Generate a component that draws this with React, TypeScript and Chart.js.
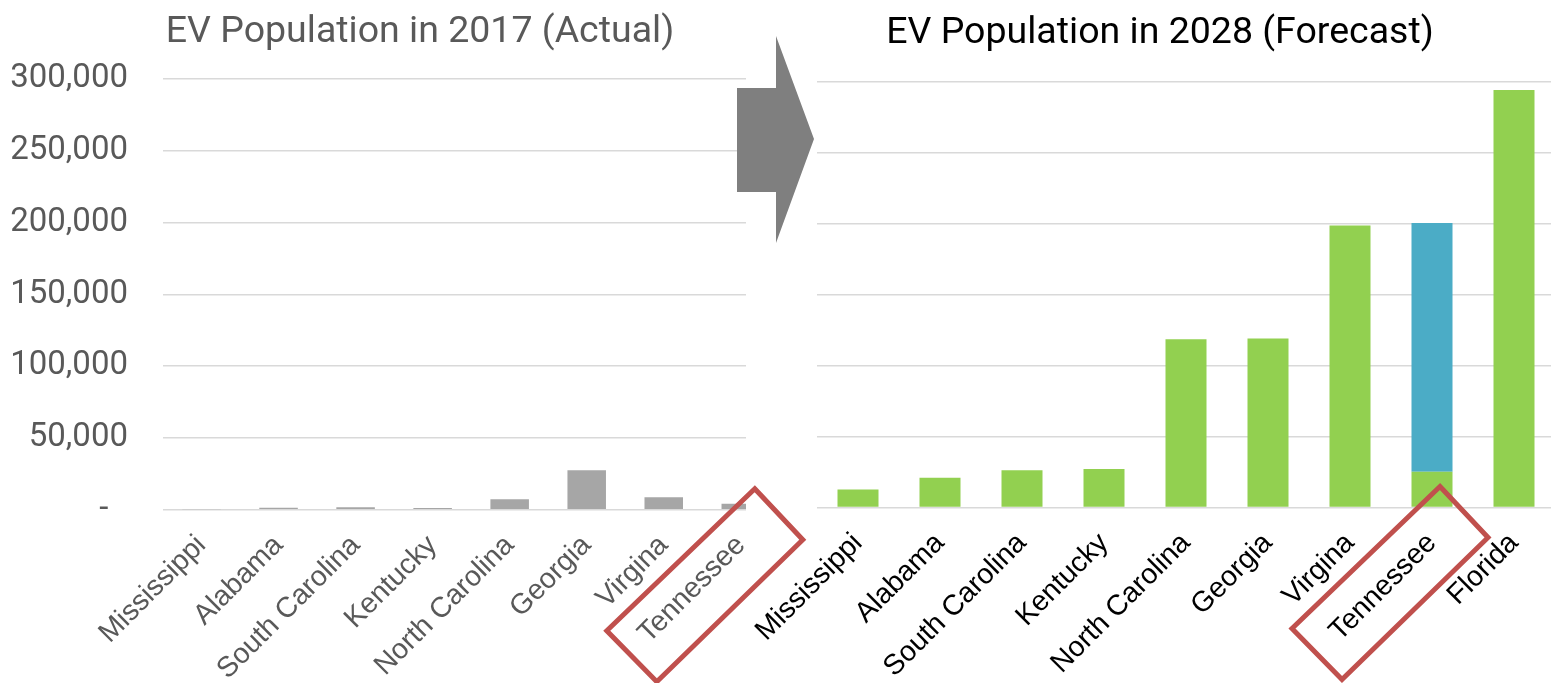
import React, { useEffect, useRef } from 'react';
import { Chart, registerables } from 'chart.js';

Chart.register(...registerables);

// ---- data ----
const states2017 = ['Mississippi', 'Alabama', 'South Carolina', 'Kentucky', 'North Carolina', 'Georgia', 'Virgina', 'Tennessee'];
const actual2017 = [300, 1300, 1700, 1100, 7200, 27400, 8600, 4200];

const states2028 = ['Mississippi', 'Alabama', 'South Carolina', 'Kentucky', 'North Carolina', 'Georgia', 'Virgina', 'Tennessee', 'Florida'];
const forecast2028 = [12700, 20900, 26300, 27200, 118600, 119000, 198600, 25100, 294200];
const tennesseeAdded2028 = [0, 0, 0, 0, 0, 0, 0, 175400, 0];

const yMax = 300000;
const yStep = 50000;

const title2017 = 'EV Population in 2017 (Actual)';
const title2028 = 'EV Population in 2028 (Forecast)';

const highlightIndex = states2017.indexOf('Tennessee');

// ---- layout constants (page px) ----
const W = 1551;
const H = 683;
const LEFT_W = 840;
const RIGHT_X = 745;
const RIGHT_W = 830;

const GRID = '#d9d9d9';
const GREY_TEXT = '#595959';

function yTickLabel(v: number | string) {
  const n = Number(v);
  return n === 0 ? '-  \u200A' : n.toLocaleString('en-US');
}

// moves the built-in title so that it is centred on a given x
const titleShift = {
  id: 'titleShift',
  afterLayout(chart: any, _args: any, opts: any) {
    const t = chart.titleBlock;
    if (!t || opts == null || opts.center == null) return;
    const half = (t.right - t.left) / 2;
    t.left = opts.center - half;
    t.right = opts.center + half;
  },
};

export default function App() {
  const leftRef = useRef<HTMLCanvasElement>(null);
  const rightRef = useRef<HTMLCanvasElement>(null);
  const overlayRef = useRef<HTMLCanvasElement>(null);

  useEffect(() => {
    const left = new Chart(leftRef.current!, {
      type: 'bar',
      data: {
        labels: states2017,
        datasets: [
          {
            data: actual2017,
            backgroundColor: '#A6A6A6',
            categoryPercentage: 1,
            barPercentage: 0.5,
          },
        ],
      },
      plugins: [titleShift],
      options: {
        responsive: false,
        animation: false,
        layout: { padding: { left: 8, right: 60.7, top: 0, bottom: 0 } },
        plugins: {
          legend: { display: false },
          tooltip: { enabled: false },
          titleShift: { center: 420 },
          title: {
            display: true,
            text: title2017,
            color: GREY_TEXT,
            font: { family: 'Roboto', size: 37.5, weight: 'normal', lineHeight: 1.2 },
            padding: { top: 10.1, bottom: 23.9 },
          },
        } as any,
        scales: {
          x: {
            grid: { display: false },
            border: { display: false },
            ticks: {
              autoSkip: false,
              maxRotation: 45,
              minRotation: 45,
              color: GREY_TEXT,
              font: { family: 'Liberation Sans', size: 28.5 },
              padding: 11,
            },
            afterFit: (s: any) => {
              s.height = 173.3;
            },
          },
          y: {
            min: 0,
            max: yMax,
            ticks: {
              stepSize: yStep,
              padding: 35,
              color: GREY_TEXT,
              font: { family: 'Roboto', size: 33 },
              callback: yTickLabel,
            },
            grid: { color: GRID, lineWidth: 1.5, drawTicks: false },
            border: { display: false },
            afterFit: (s: any) => {
              s.width = 155;
            },
          },
        },
      },
    });

    const right = new Chart(rightRef.current!, {
      type: 'bar',
      data: {
        labels: states2028,
        datasets: [
          {
            data: forecast2028,
            backgroundColor: '#92D050',
            categoryPercentage: 1,
            barPercentage: 0.5,
          },
          {
            data: tennesseeAdded2028,
            backgroundColor: '#4BACC6',
            categoryPercentage: 1,
            barPercentage: 0.5,
          },
        ],
      },
      plugins: [titleShift],
      options: {
        responsive: false,
        animation: false,
        layout: { padding: { left: 8, right: 20, top: 0, bottom: 0 } },
        plugins: {
          legend: { display: false },
          tooltip: { enabled: false },
          titleShift: { center: 1160 - RIGHT_X },
          title: {
            display: true,
            text: title2028,
            color: '#000000',
            font: { family: 'Roboto', size: 37.5, weight: 'normal', lineHeight: 1.2 },
            padding: { top: 11.3, bottom: 25.4 },
          },
        } as any,
        scales: {
          x: {
            stacked: true,
            grid: { display: false },
            border: { display: false },
            ticks: {
              autoSkip: false,
              maxRotation: 45,
              minRotation: 45,
              color: '#000000',
              font: { family: 'Liberation Sans', size: 28.5 },
              padding: 11,
            },
            afterFit: (s: any) => {
              s.height = 175.5;
            },
          },
          y: {
            stacked: true,
            min: 0,
            max: yMax,
            ticks: { stepSize: yStep, display: false },
            grid: { color: GRID, lineWidth: 1.5, drawTicks: false },
            border: { display: false },
            afterFit: (s: any) => {
              s.width = 64;
            },
          },
        },
      },
    });

    // overlay: arrow + highlight boxes
    const oc = overlayRef.current!;
    const ctx = oc.getContext('2d')!;
    ctx.clearRect(0, 0, W, H);

    ctx.fillStyle = '#7F7F7F';
    ctx.beginPath();
    ctx.moveTo(737, 88);
    ctx.lineTo(776, 88);
    ctx.lineTo(776, 36);
    ctx.lineTo(814, 139);
    ctx.lineTo(776, 243);
    ctx.lineTo(776, 192);
    ctx.lineTo(737, 192);
    ctx.closePath();
    ctx.fill();

    const drawBox = (tx: number, ay: number) => {
      ctx.strokeStyle = '#C0504D';
      ctx.lineWidth = 5;
      ctx.lineJoin = 'miter';
      ctx.beginPath();
      ctx.moveTo(tx + 14, ay - 21);
      ctx.lineTo(tx + 62, ay + 30);
      ctx.lineTo(tx - 84, ay + 172);
      ctx.lineTo(tx - 134, ay + 121);
      ctx.closePath();
      ctx.stroke();
    };
    drawBox(left.scales.x.getPixelForValue(highlightIndex), left.chartArea.bottom);
    drawBox(RIGHT_X + right.scales.x.getPixelForValue(highlightIndex) - 6, right.chartArea.bottom);

    return () => {
      left.destroy();
      right.destroy();
    };
  }, []);

  return (
    <div
      style={{
        position: 'absolute',
        left: 0,
        top: 0,
        width: W,
        height: H,
        overflow: 'hidden',
        background: '#ffffff',
      }}
    >
      <canvas
        ref={leftRef}
        width={LEFT_W}
        height={H}
        style={{ position: 'absolute', left: 0, top: 0, clipPath: 'inset(0 94px 0 0)' }}
      />
      <canvas
        ref={rightRef}
        width={RIGHT_W}
        height={H}
        style={{ position: 'absolute', left: RIGHT_X, top: 0 }}
      />
      <canvas
        ref={overlayRef}
        width={W}
        height={H}
        style={{ position: 'absolute', left: 0, top: 0, pointerEvents: 'none' }}
      />
    </div>
  );
}
